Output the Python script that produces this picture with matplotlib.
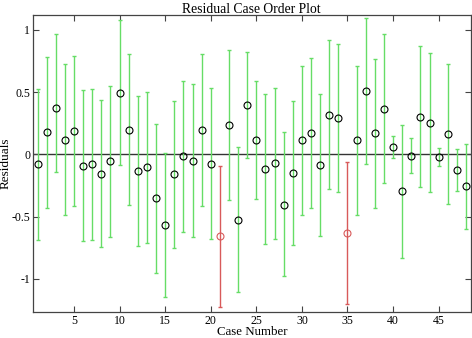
import matplotlib
matplotlib.use("Agg")
import matplotlib.pyplot as plt
import numpy as np

cases = list(range(1, 49))
residuals = [-0.080, 0.181, 0.375, 0.117, 0.186, -0.090, -0.080, -0.154, -0.056, 0.495,
             0.197, -0.136, -0.098, -0.348, -0.566, -0.160, -0.011, -0.053, 0.197, -0.074,
             -0.657, 0.234, -0.527, 0.394, 0.117, -0.117, -0.069, -0.404, -0.152, 0.112,
             0.170, -0.085, 0.319, 0.290, -0.630, 0.112, 0.508, 0.173, 0.367, 0.061,
             -0.298, -0.013, 0.301, 0.253, -0.019, 0.162, -0.125, -0.258]
upper = [0.527, 0.785, 0.968, 0.723, 0.793, 0.519, 0.527, 0.439, 0.548, 1.080,
         0.803, 0.468, 0.505, 0.247, 0.011, 0.426, 0.593, 0.564, 0.806, 0.532,
         -0.096, 0.840, 0.061, 0.819, 0.588, 0.487, 0.537, 0.178, 0.431, 0.713,
         0.771, 0.484, 0.915, 0.883, -0.061, 0.713, 1.096, 0.766, 0.963, 0.149,
         0.239, 0.128, 0.867, 0.814, 0.048, 0.723, 0.043, 0.080]
lower = [-0.689, -0.428, -0.144, -0.487, -0.418, -0.694, -0.689, -0.745, -0.660, -0.085,
         -0.407, -0.739, -0.710, -0.949, -1.144, -0.750, -0.620, -0.662, -0.412, -0.681,
         -1.229, -0.364, -1.109, -0.029, -0.356, -0.721, -0.678, -0.981, -0.726, -0.487,
         -0.428, -0.657, -0.277, -0.301, -1.205, -0.487, -0.077, -0.428, -0.226, -0.027,
         -0.832, -0.152, -0.266, -0.306, -0.090, -0.396, -0.295, -0.596]

plt.rcParams['font.family'] = ['Liberation Serif', 'DejaVu Serif']

fig = plt.figure(figsize=(4.72, 3.38), dpi=100)
ax = fig.add_axes([0.0699, 0.077, 0.927, 0.8795])

green = '#66dd66'
red = '#d85a5a'
for c, r, u, l in zip(cases, residuals, upper, lower):
    col = red if (u < 0 or l > 0) else green
    ax.errorbar([c], [r], yerr=[[r - l], [u - r]], fmt='none', ecolor=col,
                elinewidth=1.0, capsize=1.5, capthick=1.0, zorder=2)
    ax.plot([c], [r], 'o', mfc='none', mec=(red if col == red else 'black'),
            ms=5.0, mew=0.8, zorder=3)

ax.axhline(0, color='#333333', lw=1.0, zorder=1)

ax.set_xlim(0.5, 48.5)
ax.set_ylim(-1.266, 1.122)
ax.set_xticks([5, 10, 15, 20, 25, 30, 35, 40, 45])
ax.set_yticks([-1, -0.5, 0, 0.5, 1])
ax.set_yticklabels(['-1', '-0.5', '0', '0.5', '1'])
ax.tick_params(direction='in', top=True, right=True, length=4, width=0.8,
               labelsize=8.5, pad=2, color='#444444')
for s in ax.spines.values():
    s.set_color('#444444')
    s.set_linewidth(0.9)

ax.set_title('Residual Case Order Plot', fontsize=9.8, pad=1.5)
ax.set_xlabel('Case Number', fontsize=9.3, labelpad=-0.5)
ax.set_ylabel('Residuals', fontsize=9.5, labelpad=0)

fig.savefig('out.png', dpi=100)
